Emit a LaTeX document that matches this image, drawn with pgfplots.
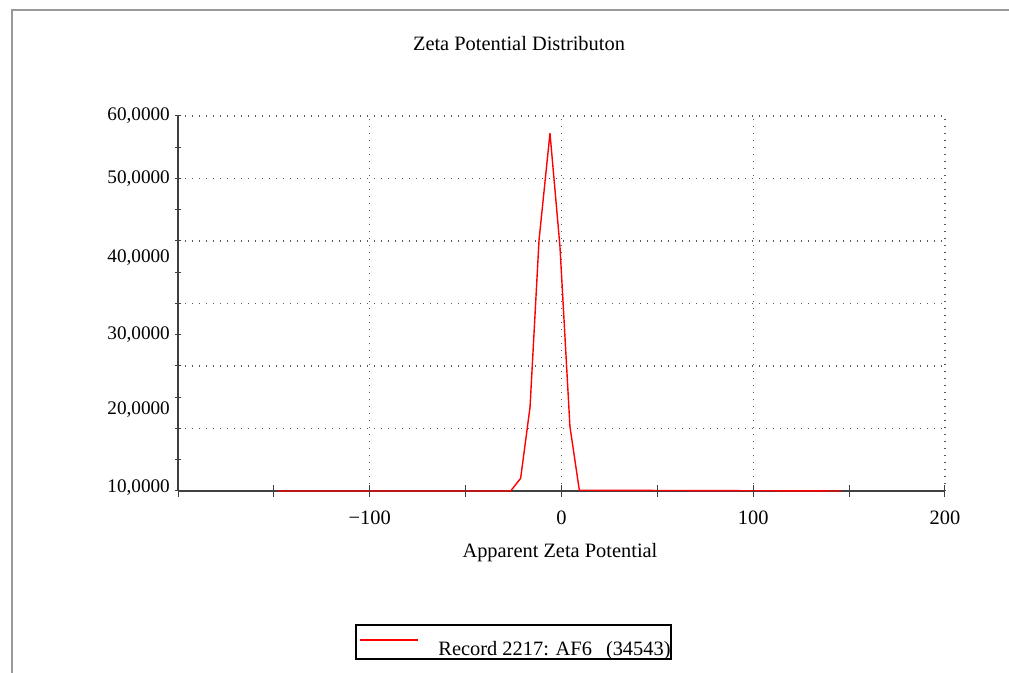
\documentclass[border=0pt]{standalone}
\usepackage{fontspec}
\setmainfont{Liberation Serif}
\usepackage{pgfplots}
\pgfplotsset{compat=1.18}
\newcommand\fsz{\fontsize{10.2}{12}\selectfont}
\newcommand\fsy{\fontsize{9.6}{11}\selectfont}
\begin{document}
\fsz
\begin{tikzpicture}
\path[use as bounding box] (0,0) rectangle (504.5pt,336.5pt);
\draw[gray!80, line width=0.7pt] (6pt,0pt) -- (6pt,331.5pt) -- (504.5pt,331.5pt);
\begin{axis}[
  at={(89pt,91pt)}, anchor=south west,
  scale only axis, width=383.5pt, height=187.5pt,
  xmin=-200, xmax=200, ymin=10, ymax=60,
  axis lines=left, axis line style={-, black!75, line width=0.6pt},
  tick align=center,
  xtick={-200,-100,0,100,200},
  xticklabels={},
  xtick style={draw=none},
  major tick length=3pt, minor tick length=3pt,
  ytick={10,18.3333,26.6667,35,43.3333,51.6667,60},
  yticklabels={},
  minor ytick={14.1667,22.5,30.8333,39.1667,47.5,55.8333},
  ytick style={black!75, line width=0.5pt},
  minor tick style={black!75, line width=0.5pt},
  extra y ticks={10.4,20.8,30.8,41.1,51.7,60},
  extra y tick labels={{10,0000},{20,0000},{30,0000},{40,0000},{50,0000},{60,0000}},
  extra y tick style={grid=none, ytick style={draw=none}, yticklabel style={xshift=1pt, font=\fsy}},
  grid=major,
  major grid style={black!65, line width=0.55pt, dash pattern=on 0.7pt off 2.8pt},
  ticklabel style={font=\fsz},
  title={Zeta Potential Distributon},
  title style={at={(0.4446,1)}, anchor=center, yshift=30pt, font=\fsz},
  xlabel={Apparent Zeta Potential},
  xlabel style={at={(0.498,0)}, anchor=center, yshift=-31pt, font=\fsz},
  clip=false,
]
\addplot[red, line width=0.7pt] coordinates {
(-148,10) (-26.5,10) (-21.3,11.7) (-16.4,21.2) (-11.7,43.5) (-6.0,57.7) (-0.8,42.6) (4.4,18.6) (9.3,10.1) (146,10)
};
\end{axis}
\begin{axis}[
  at={(89pt,91pt)}, anchor=south west,
  scale only axis, width=383.5pt, height=187.5pt,
  xmin=-200, xmax=200, ymin=10, ymax=60,
  axis x line=bottom, axis y line=none,
  axis line style={-, draw=none},
  tick align=center,
  xtick={-200,-100,0,100,200},
  xticklabels={,−100,0,100,200},
  minor xtick={-150,-50,50,150},
  xtick style={black!75, line width=0.5pt},
  minor tick style={black!75, line width=0.5pt},
  major tick length=6pt, minor tick length=6pt,
  /pgf/number format/assume math mode=true,
  ticklabel style={font=\fsz},
  xticklabel style={yshift=-3.5pt},
]
\end{axis}
\draw[black, line width=0.6pt] (178pt,7pt) rectangle (335.5pt,24pt);
\draw[color=red, line width=0.7pt] (180pt,16.5pt) -- (209pt,16.5pt);
\node[anchor=base east, inner sep=0pt] at (335.5pt,8.5pt) {Record 2217: AF6\hspace{7pt}(34543)};
\end{tikzpicture}
\end{document}
